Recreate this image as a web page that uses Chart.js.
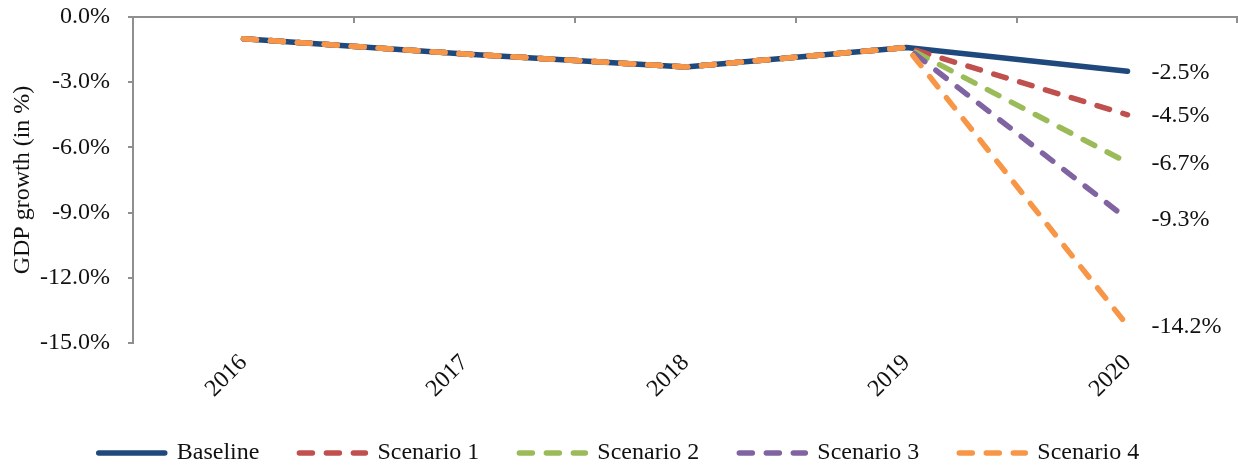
<!DOCTYPE html>
<html>
<head>
<meta charset="utf-8">
<script src="https://cdn.jsdelivr.net/npm/chart.js@4.4.1/dist/chart.umd.min.js"></script>
<style>
  html, body { margin: 0; padding: 0; background: #ffffff; }
  #wrap { width: 1238px; height: 470px; position: relative; }
</style>
</head>
<body>
<div id="wrap"><canvas id="c"></canvas></div>
<script>
const years = ['2016', '2017', '2018', '2019', '2020'];
const baseline  = [-1.0, -1.7, -2.3, -1.4, -2.5];
const scenario1 = [-1.0, -1.7, -2.3, -1.4, -4.5];
const scenario2 = [-1.0, -1.7, -2.3, -1.4, -6.7];
const scenario3 = [-1.0, -1.7, -2.3, -1.4, -9.3];
const scenario4 = [-1.0, -1.7, -2.3, -1.4, -14.2];
const seriesNames = ['Baseline', 'Scenario 1', 'Scenario 2', 'Scenario 3', 'Scenario 4'];
const yTicks = [0, -3, -6, -9, -12, -15];

const FONT = "'Liberation Serif', 'Times New Roman', serif";
const FS = 24;
const GRAY = '#8f8f8f';
const LW = 5.5;

function ds(label, data, color, dashed, order) {
  return {
    label, data,
    borderColor: color, backgroundColor: color,
    borderWidth: LW,
    borderDash: dashed ? [13, 14] : [],
    borderCapStyle: 'round',
    borderJoinStyle: 'round',
    pointRadius: 0, pointHoverRadius: 0,
    pointStyle: 'line',
    tension: 0, fill: false,
    order
  };
}

const endLabels = {
  id: 'endLabels',
  afterDatasetsDraw(chart) {
    const ctx = chart.ctx;
    ctx.save();
    ctx.font = FS + 'px ' + FONT;
    ctx.fillStyle = '#111';
    ctx.textAlign = 'left';
    ctx.textBaseline = 'middle';
    chart.data.datasets.forEach((d, i) => {
      const meta = chart.getDatasetMeta(i);
      const last = d.data.length - 1;
      const pt = meta.data[last];
      ctx.fillText(d.data[last].toFixed(1) + '%', pt.x + 24, pt.y + 1);
    });
    ctx.restore();
  }
};

const topTicks = {
  id: 'topTicks',
  afterDraw(chart) {
    const xs = chart.scales.x;
    const ctx = chart.ctx;
    const top = chart.chartArea.top;
    const step = xs.getPixelForValue(1) - xs.getPixelForValue(0);
    ctx.save();
    ctx.strokeStyle = GRAY;
    ctx.lineWidth = 2;
    for (let i = 0; i < years.length; i++) {
      const x = Math.min(xs.getPixelForValue(i) + step / 2, chart.width - 1);
      ctx.beginPath();
      ctx.moveTo(x, top);
      ctx.lineTo(x, top + 6);
      ctx.stroke();
    }
    ctx.restore();
  }
};

new Chart(document.getElementById('c'), {
  type: 'line',
  data: {
    labels: years,
    datasets: [
      ds(seriesNames[0], baseline,  '#1F497D', false, 5),
      ds(seriesNames[1], scenario1, '#C0504D', true, 4),
      ds(seriesNames[2], scenario2, '#9BBB59', true, 3),
      ds(seriesNames[3], scenario3, '#8064A2', true, 2),
      ds(seriesNames[4], scenario4, '#F79646', true, 1)
    ]
  },
  options: {
    responsive: true,
    maintainAspectRatio: false,
    animation: false,
    layout: { padding: { top: 17, right: 0, left: 0, bottom: 0 } },
    plugins: {
      tooltip: { enabled: false },
      legend: {
        position: 'bottom',
        maxHeight: 69,
        labels: {
          usePointStyle: true,
          pointStyleWidth: 66,
          boxHeight: FS,
          padding: 40,
          color: '#111',
          font: { family: FONT, size: FS },
          sort: (a, b) => a.datasetIndex - b.datasetIndex,
          generateLabels(chart) {
            const items = Chart.defaults.plugins.legend.labels.generateLabels(chart);
            items.forEach((it) => {
              const d = chart.data.datasets[it.datasetIndex];
              it.lineDash = d.borderDash;
              it.lineDashOffset = 0;
              it.lineCap = 'round';
              it.lineWidth = LW;
              it.strokeStyle = d.borderColor;
              it.fillStyle = d.borderColor;
              it.pointStyle = 'line';
            });
            return items;
          }
        }
      }
    },
    scales: {
      x: {
        offset: true,
        grid: { display: false, offset: true, drawTicks: false },
        border: { display: false },
        ticks: {
          color: '#111',
          font: { family: FONT, size: FS },
          maxRotation: 45, minRotation: 45,
          padding: 6
        },
        afterFit(scale) { scale.height = 58; }
      },
      y: {
        min: -15, max: 0,
        afterBuildTicks(scale) { scale.ticks = yTicks.map(v => ({ value: v })); },
        grid: {
          drawOnChartArea: true,
          color: (c) => (c.tick && c.tick.value === 0) ? GRAY : 'rgba(0,0,0,0)',
          lineWidth: 2,
          tickColor: GRAY,
          tickLength: 5
        },
        border: { display: true, color: GRAY, width: 2 },
        ticks: {
          color: '#111',
          font: { family: FONT, size: FS },
          padding: 18,
          callback: (v) => Number(v).toFixed(1) + '%'
        },
        title: {
          display: true,
          text: 'GDP growth (in %)',
          color: '#111',
          font: { family: FONT, size: FS },
          padding: { top: 8, bottom: 0 }
        },
        afterFit(scale) {
          scale.width = 133;
          scale.paddingTop = 14;
          scale.paddingBottom = 14;
        }
      }
    }
  },
  plugins: [endLabels, topTicks]
});
</script>
</body>
</html>
